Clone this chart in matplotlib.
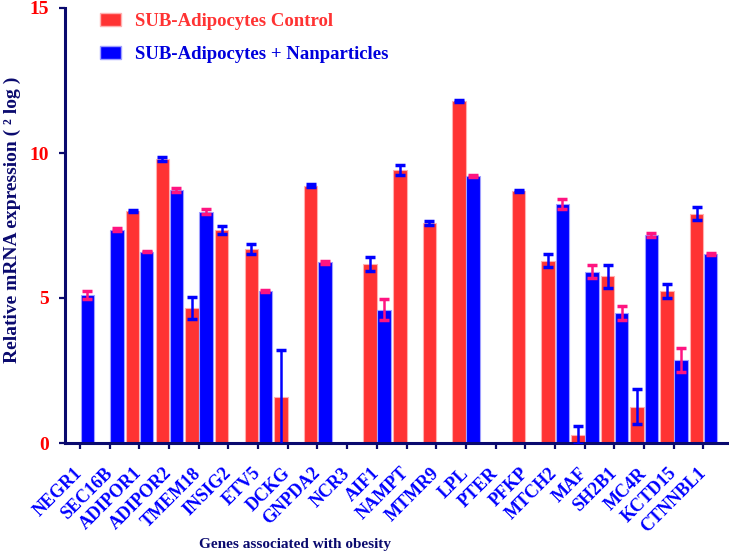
import numpy as np
import matplotlib
matplotlib.use("Agg")
import matplotlib.pyplot as plt
import matplotlib.transforms as mtransforms
from matplotlib.patches import Patch

genes = ['NEGR1', 'SEC16B', 'ADIPOR1', 'ADIPOR2', 'TMEM18', 'INSIG2', 'ETV5', 'DCKG',
         'GNPDA2', 'NCR3', 'AIF1', 'NAMPT', 'MTMR9', 'LPL', 'PTER', 'PFKP', 'MTCH2',
         'MAF', 'SH2B1', 'MC4R', 'KCTD15', 'CTNNBL1']
control = [0, 0, 8.01, 9.80, 4.66, 7.36, 6.69, 1.57, 8.87, 0, 6.18, 9.41, 7.59, 11.80,
           0, 8.68, 6.29, 0.26, 5.75, 1.25, 5.24, 7.91]
control_err = [0, 0, 0.04, 0.07, 0.37, 0.14, 0.17, 1.63, 0.05, 0, 0.24, 0.17, 0.06, 0.03,
               0, 0.03, 0.23, 0.31, 0.40, 0.61, 0.23, 0.22]
nano = [5.10, 7.36, 6.60, 8.74, 7.98, 0, 5.25, 0, 6.23, 0, 4.60, 0, 0, 9.21,
        0, 0, 8.25, 5.91, 4.49, 7.18, 2.87, 6.51]
nano_err = [0.13, 0.04, 0.03, 0.07, 0.08, 0, 0.03, 0, 0.05, 0, 0.35, 0, 0, 0.03,
            0, 0, 0.17, 0.22, 0.24, 0.06, 0.42, 0.03]

navy = '#0a0a6e'
red = '#FF3333'
blue = '#0000FF'
pink = '#FF1480'
serif = 'Liberation Serif'

fig = plt.figure(figsize=(7.29, 5.57), dpi=100)
ax = fig.add_axes([65/729, 114/557, 662.7/729, 435/557])

x = np.arange(len(genes))
control = np.array(control); control_err = np.array(control_err)
nano = np.array(nano); nano_err = np.array(nano_err)

w = 0.455
ax.bar(x, control, width=-w, align='edge', color=red, edgecolor='#FFB0B0', linewidth=0.8)
ax.bar(x + 0.02, nano, width=w, align='edge', color=blue, edgecolor='#A0A0FF', linewidth=0.8)

m = control > 0
ax.errorbar(x[m] - w/2, control[m], yerr=control_err[m], fmt='none', ecolor=blue,
            elinewidth=1.8, capsize=3.5, capthick=2.5, zorder=3)
m = nano > 0
ax.errorbar(x[m] + 0.02 + w/2, nano[m], yerr=nano_err[m], fmt='none', ecolor=pink,
            elinewidth=1.8, capsize=3.5, capthick=2.5, zorder=3)

ax.set_xlim(-0.505, 21.82)
ax.set_ylim(0, 15)
ax.set_yticks([0, 5, 10, 15])
ax.set_xticks(x)

for s in ['top', 'right']:
    ax.spines[s].set_visible(False)
for s in ['left', 'bottom']:
    ax.spines[s].set_color(navy)
    ax.spines[s].set_linewidth(2.2)
ax.tick_params(axis='both', direction='out', length=4.5, width=1.6, color=navy)
ax.tick_params(axis='x', pad=6)
ax.tick_params(axis='y', pad=7)

ax.set_xticklabels(genes, rotation=45, ha='right', va='top', color=blue,
                   fontsize=13, fontweight='bold', family=serif)
# nudge the slanted gene names right and down a bit
shift = mtransforms.ScaledTranslation(6/100, -7/100, fig.dpi_scale_trans)
for lab in ax.get_xticklabels():
    lab.set_transform(lab.get_transform() + shift)
for lab in ax.get_yticklabels():
    lab.set_color('#FF0000'); lab.set_fontsize(14); lab.set_fontweight('bold'); lab.set_family(serif)

ax.set_ylabel('Relative mRNA expression ( ² log )', fontsize=14, fontweight='bold',
              family=serif, color=navy)
ax.yaxis.set_label_coords(-0.066, 0.513)
ax.set_xlabel('Genes associated with obesity', fontsize=11, fontweight='bold',
              family=serif, color=navy)
ax.xaxis.set_label_coords(0.347, -0.218)

handles = [Patch(facecolor=red, edgecolor='#FFB0B0'), Patch(facecolor=blue, edgecolor='#A0A0FF')]
leg = ax.legend(handles, ['SUB-Adipocytes Control', 'SUB-Adipocytes + Nanparticles'],
                loc='upper left', bbox_to_anchor=(100/729, 1 - 13/557), bbox_transform=fig.transFigure,
                frameon=False, borderpad=0, borderaxespad=0, handlelength=1.1, handleheight=0.7,
                handletextpad=0.75, labelspacing=0.85,
                prop={'family': serif, 'weight': 'bold', 'size': 13.5})
leg.get_texts()[0].set_color(red)
leg.get_texts()[1].set_color('#0000DD')

fig.savefig('out.png', dpi=100)
